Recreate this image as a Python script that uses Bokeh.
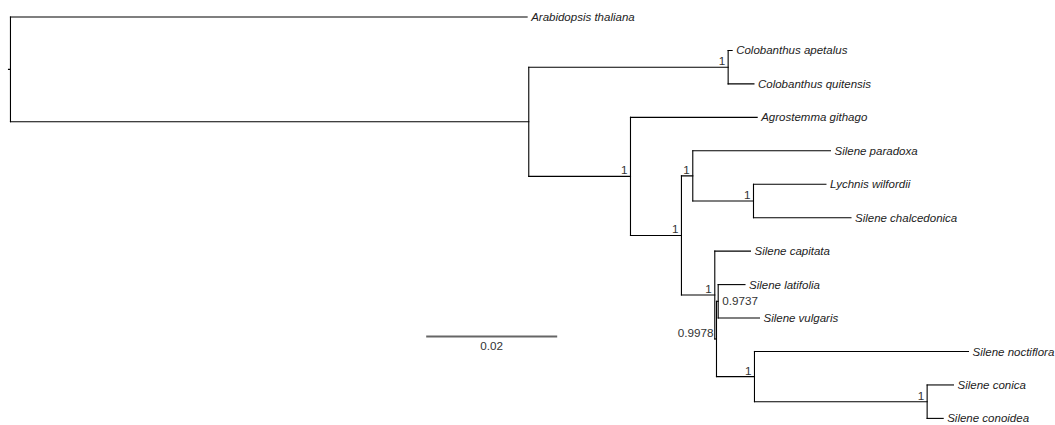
from bokeh.plotting import figure
from bokeh.models import Range1d
from bokeh.core.properties import value
from bokeh.embed import file_html
from bokeh.resources import INLINE

# ---------------- data: tree topology, branch lengths, support ----------------
node_names = [
    "root", "Arabidopsis thaliana", "n1", "n_colob", "Colobanthus apetalus",
    "Colobanthus quitensis", "n_G", "Agrostemma githago", "n_A", "n_P",
    "Silene paradoxa", "n_L", "Lychnis wilfordii", "Silene chalcedonica", "n_B",
    "Silene capitata", "n_C", "n_D", "Silene latifolia", "Silene vulgaris",
    "n_E", "Silene noctiflora", "n_F", "Silene conica", "Silene conoidea",
]
parent_names = [
    None, "root", "root", "n1", "n_colob",
    "n_colob", "n1", "n_G", "n_G", "n_A",
    "n_P", "n_P", "n_L", "n_L", "n_A",
    "n_B", "n_B", "n_C", "n_D", "n_D",
    "n_C", "n_E", "n_E", "n_F", "n_F",
]
branch_lengths = [
    0.0003, 0.07888, 0.07913, 0.03044, 0.00061,
    0.00394, 0.01553, 0.01934, 0.00778, 0.00173,
    0.02102, 0.00927, 0.01106, 0.01488, 0.00509,
    0.00545, 0.00026, 0.00026, 0.00409, 0.00630,
    0.00580, 0.03267, 0.02636, 0.00402, 0.00245,
]
support_values = [
    None, None, None, 1, None,
    None, 1, None, 1, 1,
    None, 1, None, None, 1,
    None, 0.9978, 0.9737, None, None,
    1, None, 1, None, None,
]
scale_bar_length = 0.02
scale_bar_label = "0.02"

# ---------------- layout computation ----------------
children = {n: [] for n in node_names}
for n, par in zip(node_names, parent_names):
    if par is not None:
        children[par].append(n)
blen = dict(zip(node_names, branch_lengths))
xpos, ypos = {}, {}
leaf_counter = [0]


def place(n, x0):
    xpos[n] = x0 + blen[n]
    if not children[n]:
        ypos[n] = float(leaf_counter[0])
        leaf_counter[0] += 1
    else:
        for c in children[n]:
            place(c, xpos[n])
        ypos[n] = (ypos[children[n][0]] + ypos[children[n][-1]]) / 2.0


place("root", 0.0)
parent_of = dict(zip(node_names, parent_names))

W, H = 1055, 425
px_per_unit = 6550.0
left_px = 8.0
first_leaf_px, leaf_step_px = 16.5, 33.45
idx_top = (0 - first_leaf_px) / leaf_step_px
idx_bottom = (H - first_leaf_px) / leaf_step_px

p = figure(width=W, height=H, output_backend="svg", toolbar_location=None,
           x_range=Range1d(-left_px / px_per_unit, (W - left_px) / px_per_unit),
           y_range=Range1d(idx_bottom, idx_top),
           x_axis_type=None, y_axis_type=None, min_border=0,
           outline_line_color=None, background_fill_color="white",
           border_fill_color="white")
p.grid.visible = False

# horizontal branches
hx0, hx1, hy = [], [], []
for n in node_names:
    par = parent_of[n]
    hx0.append(xpos[par] if par is not None else 0.0)
    hx1.append(xpos[n])
    hy.append(ypos[n])
p.segment(x0=hx0, y0=hy, x1=hx1, y1=hy, line_color="black", line_width=1.1,
          line_cap="square")

# vertical connectors
vx, vy0, vy1 = [], [], []
for n in node_names:
    if children[n]:
        vx.append(xpos[n])
        vy0.append(ypos[children[n][0]])
        vy1.append(ypos[children[n][-1]])
p.segment(x0=vx, y0=vy0, x1=vx, y1=vy1, line_color="black", line_width=1.1,
          line_cap="square")

# leaf labels
leaves = [n for n in node_names if not children[n]]
p.text(x=[xpos[n] for n in leaves], y=[ypos[n] for n in leaves], text=leaves,
       text_font=value("Liberation Sans"), text_font_style="italic",
       text_font_size="11.5px", text_color="#222222", text_baseline="middle",
       text_align="left", x_offset=4)

# support labels
right_label_nodes = {"n_D"}
lx, ly, lt, rx, ry, rt = [], [], [], [], [], []
for n, s in zip(node_names, support_values):
    if s is None:
        continue
    if n in right_label_nodes:
        rx.append(xpos[n]); ry.append(ypos[n]); rt.append(f"{s:g}")
    else:
        lx.append(xpos[n]); ly.append(ypos[n]); lt.append(f"{s:g}")
p.text(x=lx, y=ly, text=lt, text_font=value("Liberation Sans"),
       text_font_size="11.7px", text_color="#333333", text_align="right",
       text_baseline="middle", x_offset=-3, y_offset=-6)
p.text(x=rx, y=ry, text=rt, text_font=value("Liberation Sans"),
       text_font_size="11.7px", text_color="#333333", text_align="left",
       text_baseline="middle", x_offset=4)

# scale bar
sb_x0 = 0.06377
sb_y = 9.55
p.segment(x0=[sb_x0], y0=[sb_y], x1=[sb_x0 + scale_bar_length], y1=[sb_y],
          line_color="#666666", line_width=2)
p.text(x=[sb_x0 + scale_bar_length / 2], y=[sb_y], text=[scale_bar_label],
       text_font=value("Liberation Sans"), text_font_size="11.7px",
       text_color="#333333", text_align="center", text_baseline="middle",
       y_offset=10)

open("out.html", "w").write(file_html(p, INLINE))
